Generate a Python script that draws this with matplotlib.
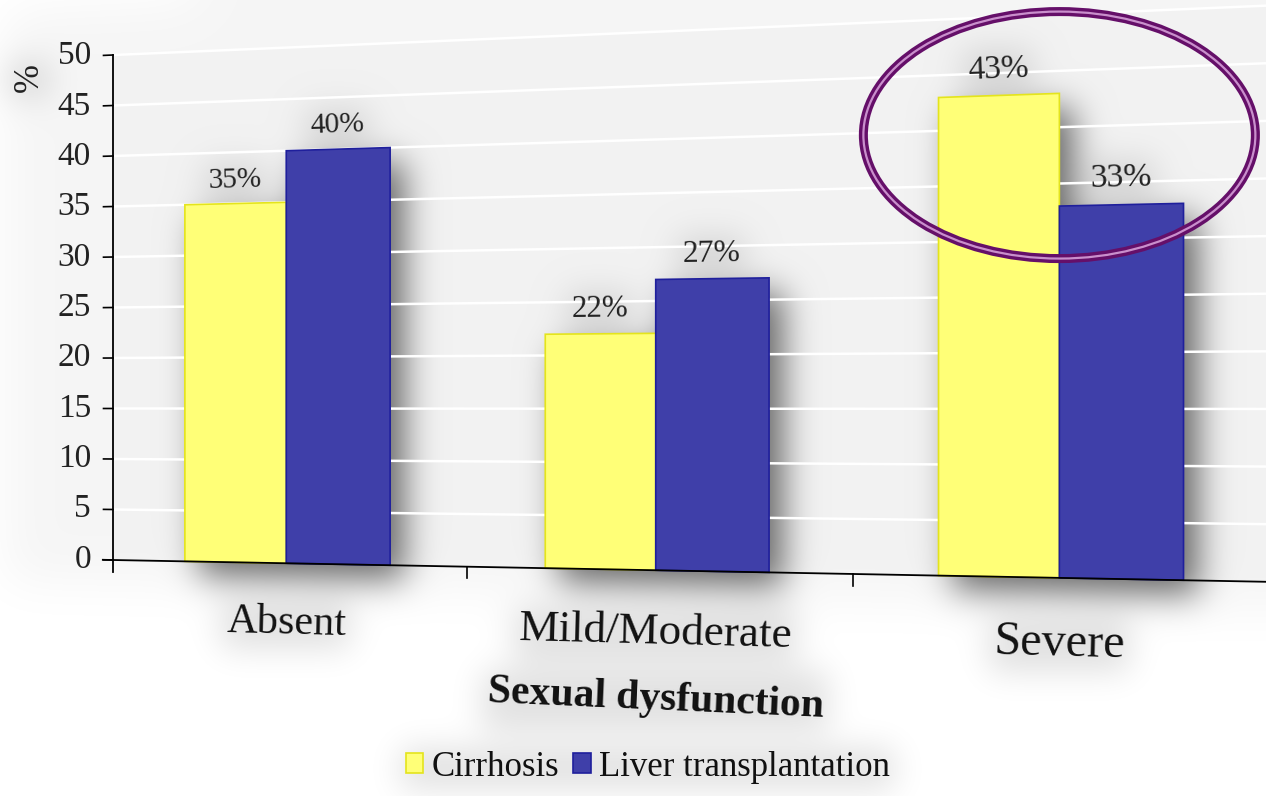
import numpy as np
import matplotlib
matplotlib.use("Agg")
import matplotlib.pyplot as plt
import matplotlib.transforms as mtransforms
from matplotlib.path import Path
from matplotlib.patches import Ellipse

# ---- data -------------------------------------------------------------
categories = ["Absent", "Mild/Moderate", "Severe"]
cirrhosis = [35, 22, 43]
transplant = [40, 27, 33]
series_names = ["Cirrhosis", "Liver transplantation"]
yticks = list(range(0, 55, 5))
x_title = "Sexual dysfunction"
y_title = "%"

# ---- canvas / perspective --------------------------------------------
W, H = 1266, 796
# projective mapping (category units, value units) -> pixel (x right, y down)
PA, PB, PC = 334.64, 113.0, -0.04145
PD, PE, PF = -16.8, -10.1, 560.0

YELLOW, YELLOW_EDGE = "#ffff77", "#e4e41c"
BLUE, BLUE_EDGE = "#3f3fa9", "#1f1f9c"
SERIF = "Liberation Serif"
INK = "#222222"


class Perspective(mtransforms.Transform):
    input_dims = 2
    output_dims = 2
    is_separable = False
    has_inverse = False

    def transform_non_affine(self, values):
        values = np.asarray(values, dtype=float)
        u = values[..., 0]
        v = values[..., 1]
        den = 1.0 + PC * u
        return np.stack([(PA * u + PB) / den, (PD * u + PE * v + PF) / den], axis=-1)


def depth(u):
    return 1.0 / (1.0 + PC * u)


proj = Perspective()


def slope_angle(u, v):
    p = proj.transform(np.array([[u - 0.05, v], [u + 0.05, v]]))
    return np.degrees(np.arctan2(-(p[1, 1] - p[0, 1]), p[1, 0] - p[0, 0]))


fig = plt.figure(figsize=(W / 100, H / 100), dpi=100)
fig.patch.set_facecolor("white")
ax = fig.add_axes([0, 0, 1, 1])
ax.set_xlim(0, W)
ax.set_ylim(H, 0)
ax.set_autoscale_on(False)
ax.axis("off")

P = proj + ax.transData

# ---- bars ---------------------------------------------------------------
centers = np.arange(len(categories)) + 0.5
bw = 0.29
bars_c = ax.bar(centers - bw / 2, cirrhosis, bw, color=YELLOW, edgecolor=YELLOW_EDGE,
                linewidth=1.2, transform=P, zorder=4, label=series_names[0])
bars_t = ax.bar(centers + bw / 2, transplant, bw, color=BLUE, edgecolor=BLUE_EDGE,
                linewidth=1.2, transform=P, zorder=4, label=series_names[1])

# ---- grid, axes, ticks ---------------------------------------------------
for t in yticks[1:]:
    ax.plot([0, 3.2], [t, t], color="white", lw=1.8, transform=P, zorder=2,
            solid_capstyle="butt")
ax.plot([0, 0], [-1.2, 50], color="black", lw=1.3, transform=P, zorder=5)
ax.plot([-0.03, 3.2], [0, 0], color="black", lw=1.3, transform=P, zorder=5)
for t in yticks:
    ax.plot([-0.028, 0], [t, t], color="black", lw=1.2, transform=P, zorder=5)
    ax.text(-0.065, t, str(t), ha="right", va="center", fontsize=24,
            family=SERIF, color=INK, transform=P, zorder=6)
for k in range(1, len(categories)):
    ax.plot([k, k], [0, -1.1], color="black", lw=1.2, transform=P, zorder=5)

ylab = ax.text(-0.25, 48.1, y_title, rotation=90, ha="center", va="center",
               fontsize=25, family=SERIF, color=INK, transform=P, zorder=6)

texts_for_haze = [ylab]

# value labels
for xs, vals in ((centers - bw / 2, cirrhosis), (centers + bw / 2, transplant)):
    for u, val in zip(xs, vals):
        t = ax.text(u, val + 1.6, f"{val}%", ha="center", va="baseline",
                    fontsize=20.5 * depth(u) ** 1.5, family=SERIF, color=INK,
                    rotation=slope_angle(u, val + 1.6), rotation_mode="anchor",
                    transform=P, zorder=6)
        texts_for_haze.append(t)

# category labels
for u, name in zip(centers, categories):
    t = ax.text(u, -5.8, name, ha="center", va="center",
                fontsize=29.5 * depth(u) ** 1.5, family=SERIF, color="#111111",
                rotation=slope_angle(u, -5.8), rotation_mode="anchor",
                transform=P, zorder=6)
    texts_for_haze.append(t)

t = ax.text(1.5, -12.0, x_title, ha="center", va="center", fontsize=30,
            family=SERIF, fontweight="bold", color="#111111",
            rotation=slope_angle(1.5, -12.0) - 0.6, rotation_mode="anchor",
            transform=P, zorder=6)
texts_for_haze.append(t)

leg = ax.legend(handles=[bars_c, bars_t], labels=series_names, loc="center",
                bbox_to_anchor=(648, 767), bbox_transform=ax.transData,
                frameon=False, ncol=2, prop={"family": SERIF, "size": 25},
                handlelength=0.5, handleheight=0.5, handletextpad=0.25,
                columnspacing=0.4, borderpad=0, borderaxespad=0)
for txt in leg.get_texts():
    txt.set_color("#111111")
leg.set_zorder(7)

# highlight ring around the last group
ec = ax.transData.inverted().transform(P.transform([[2.5, 39.3]]))[0]
ax.add_patch(Ellipse(ec, 392, 247, fill=False, lw=6.5, edgecolor="#650f69", zorder=8))
ax.add_patch(Ellipse(ec, 392, 247, fill=False, lw=1.6, edgecolor="#c98fcc", zorder=9))

# ---- soft shading (plot area tint, bar shadows, text haze) -------------
yy, xx = np.mgrid[0:H, 0:W]
pts = np.column_stack([xx.ravel() + 0.5, yy.ravel() + 0.5])


def poly_mask(corners_uv):
    verts = proj.transform(np.asarray(corners_uv, dtype=float))
    return Path(verts).contains_points(pts).reshape(H, W).astype(float)


def rect_mask(x0, y0, x1, y1):
    m = np.zeros((H, W))
    m[max(int(y0), 0):min(int(y1), H), max(int(x0), 0):min(int(x1), W)] = 1.0
    return m


def blur(img, s):
    r = int(3 * s)
    k = np.exp(-0.5 * (np.arange(-r, r + 1) / s) ** 2)
    k /= k.sum()
    p = np.pad(img, r, mode="edge")
    tmp = np.array([np.convolve(row, k, mode="valid") for row in p])
    return np.array([np.convolve(col, k, mode="valid") for col in tmp.T]).T


def shift(img, dx, dy):
    out = np.zeros_like(img)
    out[dy:, dx:] = img[:H - dy, :W - dx]
    return out


area = poly_mask([[0, 0], [3.3, 0], [3.3, 50], [0, 50]])
area_wide = poly_mask([[-0.32, -2.5], [3.3, -2.5], [3.3, 55], [-0.32, 55]])

bar_mask = np.zeros((H, W))
for xs, vals in ((centers - bw / 2, cirrhosis), (centers + bw / 2, transplant)):
    for u, val in zip(xs, vals):
        bar_mask = np.maximum(bar_mask, poly_mask(
            [[u - bw / 2, 0], [u + bw / 2, 0], [u + bw / 2, val], [u - bw / 2, val]]))
bar_shadow = blur(shift(bar_mask, 14, 14), 17)

fig.canvas.draw()
text_mask = np.zeros((H, W))
for tt in texts_for_haze + [leg]:
    bb = tt.get_window_extent()
    text_mask = np.maximum(text_mask, rect_mask(bb.x0 - 4, H - bb.y1 - 2,
                                                bb.x1 + 4, H - bb.y0 + 6))
text_haze = blur(text_mask, 16)

alpha = 1 - (1 - 0.015 * area) * (1 - 0.04 * blur(area_wide, 24)) \
    * (1 - 0.58 * bar_shadow) * (1 - 0.12 * text_haze)
rgba = np.zeros((H, W, 4))
rgba[..., 3] = np.clip(alpha, 0, 1)
ax.imshow(rgba, extent=(0, W, H, 0), zorder=1, aspect="auto", interpolation="bilinear")
ax.set_xlim(0, W)
ax.set_ylim(H, 0)

fig.savefig("out.png", dpi=100, facecolor="white")
